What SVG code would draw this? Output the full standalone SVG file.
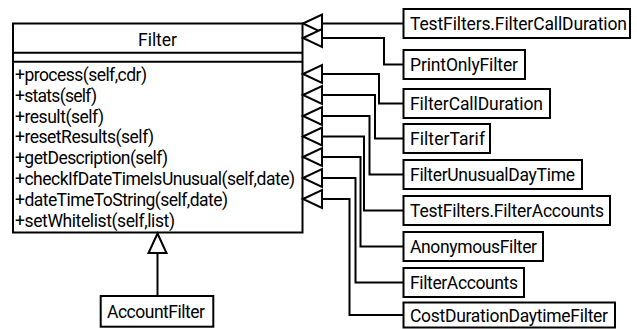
<svg xmlns="http://www.w3.org/2000/svg" width="637" height="329" viewBox="0 0 637 329">
<style>
rect.box{fill:#fff;stroke:#000;stroke-width:2}
line.div{stroke:#000;stroke-width:2}
text{font-family:Roboto,"Liberation Sans",Arial,sans-serif;font-size:17.5px;font-weight:400;fill:#000}
.conn path{fill:none;stroke:#000;stroke-width:2}
.conn polygon{fill:#fff;stroke:#000;stroke-width:2}
</style>
<rect width="637" height="329" fill="#fff"/>
<g id="Filter">
<rect class="box" x="13" y="23.5" width="289.5" height="209"/>
<line class="div" x1="13" y1="52.7" x2="302.5" y2="52.7"/>
<line class="div" x1="13" y1="61.7" x2="302.5" y2="61.7"/>
<text x="138" y="45.5" textLength="39" lengthAdjust="spacing" font-weight="500">Filter</text>
<text x="15" y="81" textLength="132" lengthAdjust="spacing">+process(self,cdr)</text>
<text x="15" y="101.8" textLength="82" lengthAdjust="spacing">+stats(self)</text>
<text x="15" y="122.6" textLength="89" lengthAdjust="spacing">+result(self)</text>
<text x="15" y="143.4" textLength="139" lengthAdjust="spacing">+resetResults(self)</text>
<text x="15" y="164.2" textLength="153" lengthAdjust="spacing">+getDescription(self)</text>
<text x="15" y="185" textLength="280" lengthAdjust="spacing">+checkIfDateTimeIsUnusual(self,date)</text>
<text x="15" y="205.8" textLength="213" lengthAdjust="spacing">+dateTimeToString(self,date)</text>
<text x="15" y="226.6" textLength="160" lengthAdjust="spacing">+setWhitelist(self,list)</text>
</g>
<g id="AccountFilter">
<rect class="box" x="100.7" y="296" width="112.6" height="30.7"/>
<text x="107" y="317.8" textLength="98" lengthAdjust="spacing">AccountFilter</text>
</g>
<g id="TestFilters.FilterCallDuration">
<rect class="box" x="403.5" y="9" width="226.5" height="29"/>
<text x="410" y="30" textLength="217" lengthAdjust="spacing">TestFilters.FilterCallDuration</text>
</g>
<g id="PrintOnlyFilter">
<rect class="box" x="403.5" y="50" width="121.5" height="29"/>
<text x="410" y="71" textLength="108" lengthAdjust="spacing">PrintOnlyFilter</text>
</g>
<g id="FilterCallDuration">
<rect class="box" x="403.5" y="89" width="146.5" height="29"/>
<text x="410" y="110" textLength="133" lengthAdjust="spacing">FilterCallDuration</text>
</g>
<g id="FilterTarif">
<rect class="box" x="403.5" y="124" width="86.5" height="29"/>
<text x="410" y="145" textLength="75" lengthAdjust="spacing">FilterTarif</text>
</g>
<g id="FilterUnusualDayTime">
<rect class="box" x="403.5" y="160" width="178.5" height="29"/>
<text x="410" y="181" textLength="165" lengthAdjust="spacing">FilterUnusualDayTime</text>
</g>
<g id="TestFilters.FilterAccounts">
<rect class="box" x="403.5" y="196" width="206.5" height="29"/>
<text x="410" y="217" textLength="194" lengthAdjust="spacing">TestFilters.FilterAccounts</text>
</g>
<g id="AnonymousFilter">
<rect class="box" x="403.5" y="232" width="139.5" height="29"/>
<text x="410" y="253" textLength="127" lengthAdjust="spacing">AnonymousFilter</text>
</g>
<g id="FilterAccounts">
<rect class="box" x="403.5" y="268" width="120.5" height="29"/>
<text x="410" y="289" textLength="108" lengthAdjust="spacing">FilterAccounts</text>
</g>
<g id="CostDurationDaytimeFilter">
<rect class="box" x="403.5" y="302.5" width="211.5" height="25"/>
<text x="410" y="321.5" textLength="198" lengthAdjust="spacing">CostDurationDaytimeFilter</text>
</g>
<g class="conn" id="connectors">
<path d="M157.5 296 V253"/>
<polygon points="157.5,233.5 148.5,253 166.5,253"/>
<path d="M403.5 23.5 H322"/>
<path d="M403.5 64.5 H384 V38 H322"/>
<path d="M403.5 103.5 H379 V74 H322"/>
<path d="M403.5 138.5 H375 V95 H322"/>
<path d="M403.5 174.5 H369.5 V116 H322"/>
<path d="M403.5 210.5 H364 V136.5 H322"/>
<path d="M403.5 246.5 H360.5 V157 H322"/>
<path d="M403.5 282.5 H355.5 V178 H322"/>
<path d="M403.5 315 H349.5 V199 H322"/>
<polygon points="303,23.5 322,14.5 322,32.5"/>
<polygon points="303,38 322,29 322,47"/>
<polygon points="303,74 322,65 322,83"/>
<polygon points="303,95 322,86 322,104"/>
<polygon points="303,116 322,107 322,125"/>
<polygon points="303,136.5 322,127.5 322,145.5"/>
<polygon points="303,157 322,148 322,166"/>
<polygon points="303,178 322,169 322,187"/>
<polygon points="303,199 322,190 322,208"/>
</g>
</svg>
